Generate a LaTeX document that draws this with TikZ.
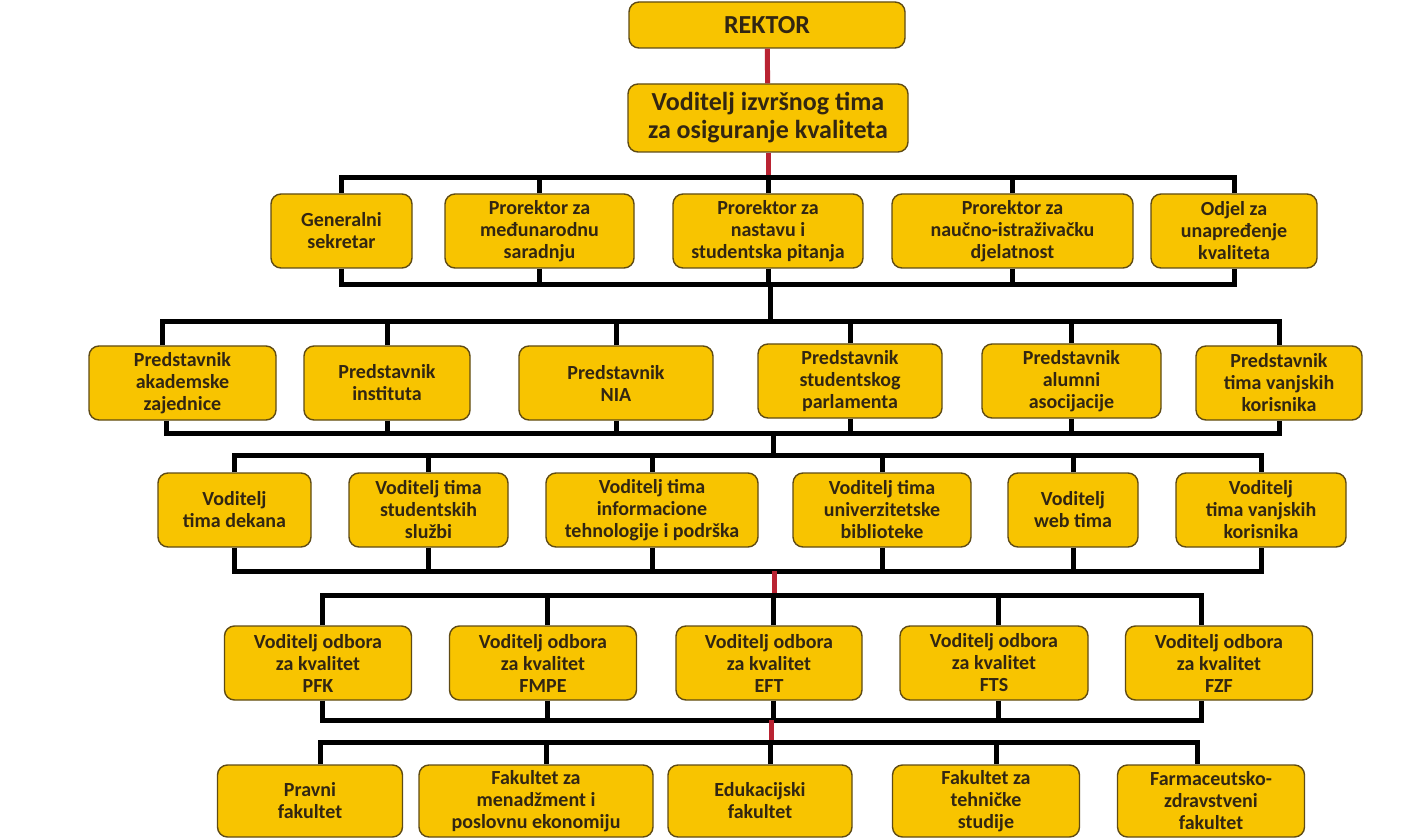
\documentclass[tikz,border=0pt]{standalone}
\usepackage{fontspec}
\setmainfont{Carlito}
\definecolor{boxfill}{RGB}{248,196,0}
\definecolor{boxline}{RGB}{95,75,20}
\definecolor{boxtext}{RGB}{50,38,18}
\definecolor{redline}{RGB}{185,35,50}
\begin{document}
\begin{tikzpicture}[x=0.5pt,y=-0.5pt]
        \tikzset{box/.style = {draw=boxline,line width=0.7pt,fill=boxfill,rounded corners=5pt,
            align=center,text=boxtext,font=\bfseries\fontsize{10}{11}\selectfont,inner sep=1pt}}
        \tikzset{row/.style = {box,minimum height=37pt}}
        \tikzset{bus/.style = {line width=2.5pt,black}}
        \tikzset{link/.style = {line width=2.5pt,redline}}

        \useasboundingbox (0,0) rectangle (1423,839);

        \node[box,minimum width=138pt,minimum height=23pt,font=\bfseries\fontsize{13}{14}\selectfont] (rektor) at (767,25) {REKTOR};
        \node[box,minimum width=140pt,minimum height=34pt,font=\bfseries\fontsize{13}{14}\selectfont] (izvrsni) at (768,118) {Voditelj izvršnog tima\\za osiguranje kvaliteta};

        % prorektori
        \node[row,minimum width=70.5pt] (gensek) at (341.5,231) {Generalni\\sekretar};
        \node[row,minimum width=94.5pt] (medjunar) at (539.5,231) {Prorektor za\\međunarodnu\\saradnju};
        \node[row,minimum width=95pt] (nastava) at (768,231) {Prorektor za\\nastavu i\\studentska pitanja};
        \node[row,minimum width=120.5pt] (nauka) at (1012.5,231) {Prorektor za\\naučno-istraživačku\\djelatnost};
        \node[row,minimum width=83pt] (odjel) at (1234,231) {Odjel za\\unapređenje\\kvaliteta};

        % predstavnici
        \node[row,minimum width=93.5pt] (akad) at (182.5,383) {Predstavnik\\akademske\\zajednice};
        \node[row,minimum width=83pt] (institut) at (387,383) {Predstavnik\\instituta};
        \node[row,minimum width=97pt] (nia) at (616,383) {Predstavnik\\NIA};
        \node[row,minimum width=92pt] (parlament) at (850,381) {Predstavnik\\studentskog\\parlamenta};
        \node[row,minimum width=89.5pt] (alumni) at (1071.5,381) {Predstavnik\\alumni\\asocijacije};
        \node[row,minimum width=83pt] (vanjski) at (1279,383) {Predstavnik\\tima vanjskih\\korisnika};

        % voditelji timova
        \node[row,minimum width=76.5pt] (dekani) at (234.5,510) {Voditelj\\tima dekana};
        \node[row,minimum width=79.5pt] (sluzbe) at (428.5,510) {Voditelj tima\\studentskih\\službi};
        \node[row,minimum width=106pt] (itpodr) at (652,510) {Voditelj tima\\informacione\\tehnologije i podrška};
        \node[row,minimum width=89pt] (biblio) at (882,510) {Voditelj tima\\univerzitetske\\biblioteke};
        \node[row,minimum width=65pt] (web) at (1073,510) {Voditelj\\web tima};
        \node[row,minimum width=85pt] (vtim) at (1261,510) {Voditelj\\tima vanjskih\\korisnika};

        % odbori
        \node[row,minimum width=93.5pt] (pfk) at (318,663) {Voditelj odbora\\za kvalitet\\PFK};
        \node[row,minimum width=93.5pt] (fmpe) at (543,663) {Voditelj odbora\\za kvalitet\\FMPE};
        \node[row,minimum width=93pt] (eft) at (769,663) {Voditelj odbora\\za kvalitet\\EFT};
        \node[row,minimum width=94pt] (fts) at (994,663) {Voditelj odbora\\za kvalitet\\FTS};
        \node[row,minimum width=93.5pt] (fzf) at (1219,663) {Voditelj odbora\\za kvalitet\\FZF};

        % fakulteti
        \node[row,minimum width=92.5pt,minimum height=36pt] (pravni) at (310,801) {Pravni\\fakultet};
        \node[row,minimum width=117pt,minimum height=36pt] (menadz) at (536,801) {Fakultet za\\menadžment i\\poslovnu ekonomiju};
        \node[row,minimum width=92pt,minimum height=36pt] (eduk) at (760,801) {Edukacijski\\fakultet};
        \node[row,minimum width=93.5pt,minimum height=36pt] (tehn) at (986,801) {Fakultet za\\tehničke\\studije};
        \node[row,minimum width=93.5pt,minimum height=36pt] (farm) at (1211,801) {Farmaceutsko-\\zdravstveni\\fakultet};

        % sabirnice
        \coordinate (t1) at (768,178);
        \coordinate (b1) at (770,285);
        \coordinate (t2) at (770,322);
        \coordinate (b2) at (773,433);
        \coordinate (t3) at (773,455);
        \coordinate (b3) at (774,571);
        \coordinate (t4) at (774,595);
        \coordinate (b4) at (771,720);
        \coordinate (t5) at (771,742);

        \draw[link] (rektor) -- (izvrsni);
        \draw[link] (izvrsni) -- (t1);

        \draw[bus] (gensek.north) |- (t1) -| (odjel.north);
        \draw[bus] (gensek.south) |- (b1) -| (odjel.south);
        \foreach \n in {medjunar,nastava,nauka}
            \draw[bus] (\n.north) -- (\n.north |- t1) (\n.south) -- (\n.south |- b1);
        \draw[bus] (b1) -- (t2);

        \draw[bus] ([xshift=-10pt]akad.north) |- (t2) -| (vanjski.north);
        \draw[bus] ([xshift=-8pt]akad.south) |- (b2) -| (vanjski.south);
        \foreach \n in {institut,nia,parlament,alumni}
            \draw[bus] (\n.north) -- (\n.north |- t2) (\n.south) -- (\n.south |- b2);
        \draw[bus] (b2) -- (t3);

        \draw[bus] (dekani.north) |- (t3) -| (vtim.north);
        \draw[bus] (dekani.south) |- (b3) -| (vtim.south);
        \foreach \n in {sluzbe,itpodr,biblio,web}
            \draw[bus] (\n.north) -- (\n.north |- t3) (\n.south) -- (\n.south |- b3);
        \draw[link] (b3) -- (t4);

        \draw[bus] ([xshift=2pt]pfk.north) |- (t4) -| ([xshift=-9pt]fzf.north);
        \draw[bus] ([xshift=2pt]pfk.south) |- (b4) -| ([xshift=-9pt]fzf.south);
        \foreach \n in {fmpe,eft,fts}
            \draw[bus] ([xshift=2pt]\n.north) -- ([xshift=2pt]\n.north |- t4) ([xshift=2pt]\n.south) -- ([xshift=2pt]\n.south |- b4);
        \draw[link] (b4) -- (t5);

        \draw[bus] ([xshift=5pt]pravni.north) |- (t5) -| ([xshift=-7pt]farm.north);
        \foreach \n in {menadz,eduk,tehn}
            \draw[bus] ([xshift=5pt]\n.north) -- ([xshift=5pt]\n.north |- t5);
    \end{tikzpicture}
\end{document}
